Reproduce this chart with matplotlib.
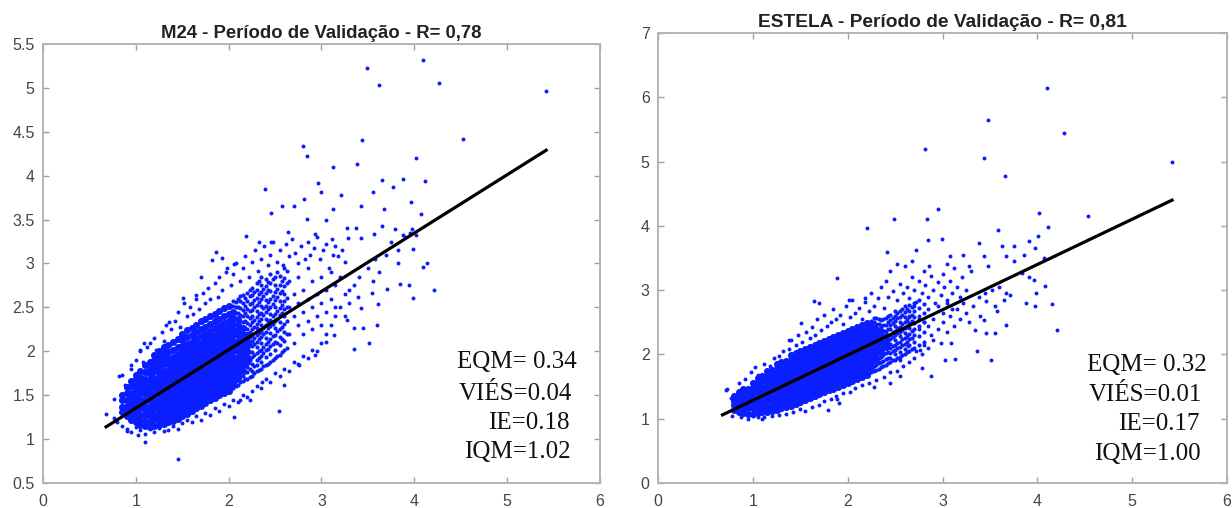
import matplotlib.pyplot as plt
import numpy as np

# ---- M24 (left) ----
# isolated / fringe points (x, y)
m24_pts = [
    (4.09,5.32),(3.49,5.23),(3.62,5.03),(4.27,5.06),(5.42,4.97),(4.52,4.42),(3.44,4.41),(2.80,4.34),
    (2.84,4.22),(4.02,4.20),(3.38,4.13),(3.12,4.10),(2.39,3.85),(2.96,3.92),(3.00,3.82),(3.65,3.95),
    (3.88,3.96),(4.11,3.94),(3.77,3.87),(3.55,3.81),(3.21,3.78),(2.81,3.73),(2.70,3.66),(2.57,3.65),
    (2.46,3.58),(3.12,3.62),(3.67,3.62),(3.96,3.70),(4.07,3.56),(3.43,3.66),(2.84,3.51),(3.05,3.49),
    (3.27,3.40),(3.37,3.41),(3.65,3.43),(3.79,3.39),(3.97,3.39),(2.64,3.36),(2.93,3.34),(3.11,3.28),
    (3.29,3.29),(3.43,3.29),(3.57,3.34),(3.88,3.32),(4.02,3.32),(3.99,3.17),(2.19,3.31),(2.33,3.25),
    (2.46,3.25),(4.09,2.96),(4.14,3.00),(3.82,3.00),(4.21,2.70),(3.85,2.77),(3.94,2.76),(3.99,2.61),
    (3.71,2.71),(3.54,2.66),(3.39,2.62),(3.61,2.54),(3.43,2.49),(3.27,2.36),(3.45,2.26),(3.60,2.30),
    (3.35,2.26),(3.51,2.10),(3.35,2.03),(3.14,2.18),(1.86,3.13),(1.82,3.04),(1.70,2.85),(1.93,3.06),
    (2.06,2.99),(1.97,2.90),(1.51,2.61),(1.65,2.64),(1.36,2.33),(1.04,2.01),(1.09,2.09),(0.95,1.84),
    (0.85,1.73),(0.76,1.46),(0.68,1.29),(0.76,1.24),(0.91,1.09),(1.02,1.05),(1.10,0.97),(1.45,0.77),
    (2.06,1.25),(2.54,1.32),(2.60,1.62),(2.36,1.65),(2.23,1.44),(2.12,1.45),(2.76,1.84),(2.93,1.96),
    (3.05,2.11),
    (0.82,1.72),(0.88,1.62),(0.95,1.80),(1.00,1.90),(1.05,2.00),(1.08,1.88),(1.12,2.05),(1.15,2.10),
    (1.20,2.15),(1.22,2.02),(1.28,2.22),(1.30,2.12),(1.33,2.30),(1.38,2.25),(1.42,2.35),(1.45,2.45),
    (1.48,2.28),(1.52,2.55),(1.55,2.40),(1.58,2.50),(1.62,2.42),(1.65,2.60),(1.68,2.48),(1.72,2.66),
    (1.75,2.55),(1.78,2.72),(1.80,2.60),(1.85,2.78),(1.88,2.62),(1.90,2.85),(1.93,2.70),(1.98,2.95),
    (2.02,2.75),(2.05,2.88),(2.08,3.00),(2.12,2.80),(2.15,2.95),(2.18,3.08),(2.22,2.85),(2.25,3.02),
    (2.28,3.15),(2.32,2.92),(2.35,3.05),(2.38,3.20),(2.42,2.98),(2.45,3.10),(2.48,3.25),(2.52,3.02),
    (2.55,3.15),(2.58,2.98),(2.62,3.22),(2.65,3.08),(2.68,3.28),(2.72,3.12),(2.75,3.00),(2.78,3.20),
    (2.82,3.05),(2.85,3.25),(2.88,3.10),(2.92,3.18),(2.95,3.30),(2.98,3.05),(3.02,3.15),(3.05,3.22),
    (3.08,2.95),(3.12,3.10),(3.15,3.20),(3.18,3.08),(3.22,3.15),(3.25,3.02),
    (0.80,1.20),(0.85,1.15),(0.90,1.12),(0.95,1.08),(1.00,1.14),(1.05,1.10),(1.10,1.06),(1.15,1.12),
    (1.20,1.08),(1.25,1.13),(1.30,1.09),(1.35,1.10),(1.40,1.15),(1.45,1.12),(1.50,1.18),(1.55,1.22),
    (1.60,1.20),(1.65,1.26),(1.70,1.22),(1.75,1.30),(1.80,1.28),(1.85,1.35),(1.90,1.32),(1.95,1.40),
    (2.00,1.38),(2.05,1.45),(2.10,1.42),(2.15,1.50),(2.20,1.48),(2.25,1.55),(2.30,1.60),(2.35,1.58),
    (2.40,1.68),(2.45,1.65),(2.50,1.75),(2.55,1.72),(2.60,1.80),(2.65,1.78),(2.70,1.88),(2.75,1.85),
    (2.80,1.95),(2.85,1.92),(2.90,2.02),(2.95,2.00),(3.00,2.10),(3.05,2.20),(3.10,2.30),(3.15,2.40),
    (3.20,2.50),(3.25,2.65),(3.30,2.55),(3.35,2.75),(3.40,2.85),(3.50,2.95),(3.58,3.05),(3.55,2.80),
    (3.62,2.90),(3.70,3.10),(3.75,3.25),(3.82,3.15),(3.90,3.30),(3.95,3.35),
    (2.65,2.20),(2.65,2.50),(2.65,2.80),(2.70,2.10),(2.70,2.40),(2.70,2.65),(2.75,2.30),(2.75,2.55),
    (2.75,2.85),(2.80,2.20),(2.80,2.45),(2.80,2.70),(2.85,2.35),(2.85,2.60),(2.85,2.95),(2.90,2.25),
    (2.90,2.50),(2.90,2.80),(2.95,2.40),(2.95,2.65),(3.00,2.30),(3.00,2.55),(3.00,2.85),(3.05,2.45),
    (3.05,2.70),(3.10,2.60),(3.10,2.90),(3.15,2.50),(3.15,2.75),(3.20,2.85),(3.25,2.40),(3.30,2.70),
]
# dense core, read column by column
m24_core_x = [0.85,0.90,0.95,1.00,1.05,1.10,1.15,1.20,1.25,1.30,1.35,1.40,1.45,1.50,1.55,1.60,1.65,1.70,
              1.75,1.80,1.85,1.90,1.95,2.00,2.05,2.10,2.15,2.20]
m24_core_y = [
    [1.31,1.37,1.44,1.50],
    [1.26,1.33,1.38,1.45,1.52,1.59],
    [1.22,1.29,1.35,1.40,1.47,1.53,1.60,1.66],
    [1.19,1.25,1.31,1.38,1.43,1.49,1.56,1.62,1.68,1.73],
    [1.16,1.22,1.28,1.35,1.41,1.46,1.52,1.59,1.65,1.71,1.78],
    [1.15,1.21,1.27,1.33,1.38,1.45,1.51,1.57,1.63,1.69,1.76,1.84],
    [1.14,1.20,1.26,1.31,1.37,1.43,1.50,1.56,1.61,1.67,1.74,1.80,1.88],
    [1.15,1.22,1.28,1.34,1.40,1.46,1.52,1.58,1.64,1.70,1.77,1.83,1.90,1.96],
    [1.16,1.22,1.27,1.33,1.39,1.45,1.51,1.57,1.63,1.69,1.75,1.82,1.88,1.94,2.00],
    [1.17,1.24,1.30,1.36,1.42,1.48,1.54,1.60,1.66,1.72,1.78,1.85,1.91,1.98,2.05],
    [1.19,1.25,1.31,1.37,1.43,1.49,1.55,1.61,1.67,1.73,1.79,1.86,1.92,1.99,2.07],
    [1.21,1.27,1.33,1.39,1.45,1.51,1.57,1.63,1.69,1.75,1.81,1.88,1.94,2.01,2.11],
    [1.23,1.29,1.35,1.41,1.47,1.53,1.59,1.65,1.71,1.77,1.83,1.90,1.97,2.05,2.14],
    [1.26,1.32,1.38,1.44,1.50,1.56,1.62,1.68,1.74,1.80,1.86,1.92,1.99,2.06,2.13,2.20],
    [1.29,1.35,1.41,1.47,1.53,1.59,1.65,1.71,1.77,1.83,1.89,1.95,2.01,2.08,2.16,2.24],
    [1.32,1.38,1.44,1.50,1.56,1.62,1.68,1.74,1.80,1.86,1.92,1.98,2.04,2.11,2.19,2.27],
    [1.35,1.41,1.47,1.53,1.59,1.65,1.71,1.77,1.83,1.89,1.95,2.01,2.07,2.14,2.22,2.30],
    [1.38,1.44,1.50,1.56,1.62,1.68,1.74,1.80,1.86,1.92,1.98,2.04,2.10,2.17,2.25,2.34],
    [1.41,1.47,1.53,1.59,1.65,1.71,1.77,1.83,1.89,1.95,2.01,2.07,2.13,2.20,2.28,2.37],
    [1.44,1.50,1.56,1.62,1.68,1.74,1.80,1.86,1.92,1.98,2.04,2.10,2.16,2.23,2.31,2.40],
    [1.47,1.53,1.59,1.65,1.71,1.77,1.83,1.89,1.95,2.01,2.07,2.13,2.19,2.26,2.34,2.43],
    [1.50,1.56,1.62,1.68,1.74,1.80,1.86,1.92,1.98,2.04,2.10,2.16,2.22,2.29,2.37,2.46],
    [1.52,1.58,1.64,1.70,1.76,1.82,1.88,1.94,2.00,2.06,2.12,2.18,2.25,2.32,2.40,2.49],
    [1.55,1.61,1.67,1.73,1.79,1.85,1.91,1.97,2.03,2.09,2.15,2.21,2.28,2.35,2.43,2.52],
    [1.64,1.70,1.76,1.82,1.88,1.94,2.00,2.06,2.12,2.18,2.24,2.31,2.38,2.45],
    [1.70,1.76,1.82,1.88,1.94,2.00,2.06,2.12,2.18,2.24,2.30,2.37],
    [1.78,1.84,1.90,1.96,2.02,2.08,2.14,2.20,2.27],
    [1.88,1.94,2.00,2.06,2.12,2.18],
]
# thinning tail of the cloud, small points
m24_tail_x = [2.05,2.075,2.10,2.125,2.15,2.175,2.20,2.225,
              2.25,2.275,2.30,2.325,2.35,2.375,2.40,2.425,2.45,2.475,2.50,2.525,2.55,2.575,2.60,2.625]
m24_tail_y = [
    [1.58,2.52,2.57],
    [1.60,1.66,1.74,2.44,2.50,2.56],
    [1.62,2.44,2.51,2.59],
    [1.65,1.72,1.79,2.34,2.41,2.49,2.57,2.63],
    [1.66,1.72,2.33,2.40,2.47,2.55,2.64],
    [1.68,1.76,1.84,1.92,2.26,2.35,2.44,2.52,2.61],
    [1.69,1.76,1.82,2.25,2.32,2.40,2.48,2.57,2.66],
    [1.71,1.80,1.90,1.99,2.08,2.16,2.22,2.30,2.38,2.46,2.54,2.63,2.70],
    [1.72,1.78,1.86,1.93,1.99,2.06,2.12,2.19,2.25,2.33,2.40,2.47,2.55,2.64,2.72],
    [1.75,1.83,1.96,2.08,2.15,2.28,2.36,2.50,2.58,2.68],
    [1.77,1.84,1.90,1.98,2.05,2.11,2.18,2.26,2.31,2.39,2.46,2.53,2.61,2.70,2.78],
    [1.79,1.92,2.00,2.14,2.21,2.34,2.42,2.56,2.65,2.80],
    [1.80,1.88,1.95,2.02,2.09,2.16,2.23,2.30,2.37,2.44,2.52,2.60,2.67,2.75,2.85],
    [1.83,1.98,2.05,2.20,2.27,2.41,2.49,2.63,2.71],
    [1.84,1.93,2.01,2.08,2.15,2.22,2.30,2.37,2.45,2.52,2.58,2.66,2.74,2.82],
    [1.86,2.03,2.11,2.26,2.34,2.48,2.56,2.70,2.79],
    [1.88,1.97,2.06,2.14,2.21,2.29,2.36,2.43,2.51,2.60,2.69,2.78,2.88],
    [1.90,2.08,2.17,2.31,2.40,2.54,2.63,2.82],
    [1.92,2.02,2.11,2.19,2.27,2.35,2.43,2.50,2.58,2.67,2.76,2.85],
    [1.95,2.10,2.23,2.37,2.46,2.62,2.71,2.90],
    [1.96,2.07,2.16,2.25,2.33,2.41,2.49,2.57,2.66,2.75,2.86],
    [1.99,2.14,2.28,2.44,2.53,2.69,2.80],
    [2.01,2.12,2.22,2.31,2.40,2.48,2.57,2.65,2.74,2.84,2.95],
    [2.04,2.20,2.35,2.51,2.61,2.78,2.92],
]
m24_line_x = [0.68, 5.42]
m24_line_y = [1.14, 4.29]
m24_stats = ["EQM= 0.34", "VIÉS=0.04", "IE=0.18", "IQM=1.02"]

# ---- ESTELA (right) ----
est_pts = [
    (4.10,6.14),(3.48,5.64),(4.28,5.44),(2.81,5.20),(3.44,5.05),(5.42,4.99),(3.66,4.77),(2.95,4.27),
    (2.49,4.10),(2.84,4.11),(4.02,4.20),(4.53,4.15),(2.20,3.97),(4.11,3.99),(3.58,3.94),(2.85,3.78),
    (2.99,3.80),(3.38,3.73),(3.63,3.69),(3.75,3.69),(3.91,3.77),(4.01,3.85),(3.97,3.65),(2.41,3.60),
    (2.72,3.63),(3.08,3.53),(3.22,3.55),(3.44,3.53),(3.67,3.53),(3.86,3.55),(2.52,3.40),(2.68,3.45),
    (2.86,3.37),(3.05,3.40),(3.28,3.37),(3.48,3.37),(3.75,3.45),(4.07,3.50),(1.89,3.19),(3.84,3.27),
    (3.96,3.16),(3.91,3.21),(4.08,3.06),(3.71,2.93),(3.67,2.95),(3.88,2.80),(3.98,2.75),(4.15,2.79),
    (4.21,2.38),(3.99,2.95),(3.46,2.83),(3.44,2.54),(3.57,2.67),(3.67,2.46),(3.46,2.34),(3.34,2.38),
    (3.55,2.33),(3.36,2.05),(3.51,1.92),(3.13,1.93),(3.03,1.92),(1.64,2.83),(1.70,2.80),(1.51,2.49),
    (1.38,2.23),(2.01,2.85),(2.18,2.88),(2.45,1.56),(2.88,1.66),(2.78,1.79),(2.55,1.66),(2.28,1.50),
    (1.79,1.14),(1.10,0.99),(1.00,1.05),(0.73,1.46),(0.77,1.32),(1.89,1.30),(1.91,1.24),(2.55,1.92),
    (2.76,2.07),(2.64,2.13),(3.09,2.18),
    (0.72,1.45),(0.85,1.55),(0.92,1.62),(0.98,1.72),(1.02,1.80),(1.05,1.68),(1.12,1.85),(1.18,1.82),
    (1.22,1.95),(1.28,1.98),(1.32,2.05),(1.38,2.08),(1.40,2.22),(1.45,2.15),(1.48,2.30),(1.52,2.20),
    (1.56,2.35),(1.60,2.25),(1.62,2.42),(1.66,2.30),(1.68,2.55),(1.72,2.38),(1.75,2.62),(1.78,2.45),
    (1.82,2.50),(1.85,2.70),(1.88,2.55),(1.92,2.62),(1.95,2.48),(1.98,2.75),(2.02,2.58),(2.05,2.85),
    (2.08,2.65),(2.12,2.72),(2.15,2.55),(2.18,2.82),(2.22,2.68),(2.25,2.95),(2.28,2.75),(2.32,2.88),
    (2.35,3.05),(2.38,2.72),(2.40,3.15),(2.42,2.90),(2.45,3.30),(2.48,2.98),(2.52,2.85),(2.55,3.10),
    (2.58,2.95),(2.60,3.38),(2.62,3.05),(2.65,2.88),(2.68,3.20),(2.70,3.00),(2.72,2.82),(2.75,3.15),
    (2.78,2.95),(2.80,3.30),(2.82,3.08),(2.85,2.90),(2.88,3.22),(2.90,3.00),(2.92,2.80),(2.95,3.12),
    (2.98,2.92),(3.00,3.25),(3.02,3.05),(3.05,2.85),(3.08,3.15),(3.10,2.95),(3.12,3.35),(3.15,3.05),
    (3.18,2.90),(3.20,3.20),(3.25,3.00),(3.30,3.30),
    (0.78,1.05),(0.88,1.02),(0.95,1.00),(1.05,1.02),(1.12,1.03),(1.20,1.04),(1.28,1.06),(1.35,1.08),
    (1.42,1.10),(1.50,1.15),(1.55,1.12),(1.62,1.18),(1.70,1.22),(1.75,1.27),(1.82,1.30),(1.88,1.35),
    (1.95,1.40),(2.02,1.42),(2.08,1.48),(2.15,1.52),(2.22,1.55),(2.30,1.60),(2.38,1.65),(2.45,1.72),
    (2.52,1.75),(2.58,1.82),(2.65,1.88),(2.70,1.95),(2.72,2.05),(2.78,2.00),(2.80,2.15),(2.85,2.10),
    (2.88,2.30),(2.90,2.22),(2.95,2.40),(2.98,2.18),(3.00,2.50),(3.05,2.35),(3.08,2.60),(3.12,2.45),
    (3.15,2.70),(3.18,2.55),(3.22,2.80),(3.25,2.65),(3.28,2.50),(3.32,2.75),(3.38,2.90),(3.40,2.60),
    (3.45,2.95),(3.52,3.00),(3.55,2.75),(3.60,3.05),(3.65,2.85),
    (2.75,2.40),(2.75,2.60),(2.80,2.50),(2.85,2.70),(2.90,2.55),(2.95,2.75),(3.00,2.65),(3.05,2.80),
    (3.10,2.70),(2.70,2.75),(2.65,2.60),(2.85,2.45),
]
est_core_x = [0.80,0.85,0.90,0.95,1.00,1.05,1.10,1.15,1.20,1.25,1.30,1.35,1.40,1.45,1.50,1.55,1.60,1.65,
              1.70,1.75,1.80,1.85,1.90,1.95,2.00,2.05,2.10,2.15,2.20,2.25,2.30,2.35,2.40]
est_core_y = [
    [1.13,1.21,1.28,1.35],
    [1.11,1.18,1.26,1.33,1.41],
    [1.09,1.17,1.24,1.32,1.39,1.46],
    [1.08,1.16,1.24,1.31,1.39,1.47],
    [1.08,1.16,1.24,1.32,1.40,1.48,1.55],
    [1.09,1.17,1.25,1.33,1.41,1.49,1.57,1.63],
    [1.10,1.18,1.26,1.34,1.42,1.50,1.58,1.66],
    [1.11,1.19,1.27,1.35,1.43,1.51,1.59,1.67,1.74],
    [1.12,1.20,1.28,1.36,1.44,1.52,1.60,1.68,1.76],
    [1.14,1.22,1.30,1.38,1.46,1.54,1.62,1.70,1.78,1.85],
    [1.16,1.24,1.32,1.40,1.48,1.56,1.64,1.72,1.80,1.88],
    [1.18,1.26,1.34,1.42,1.50,1.58,1.66,1.74,1.82,1.90],
    [1.20,1.28,1.36,1.44,1.52,1.60,1.68,1.76,1.84,1.92,1.99],
    [1.23,1.31,1.39,1.47,1.55,1.63,1.71,1.79,1.87,1.95,2.02],
    [1.26,1.34,1.42,1.50,1.58,1.66,1.74,1.82,1.90,1.98,2.05],
    [1.29,1.37,1.45,1.53,1.61,1.69,1.77,1.85,1.93,2.01,2.08],
    [1.32,1.40,1.48,1.56,1.64,1.72,1.80,1.88,1.96,2.04,2.12],
    [1.35,1.43,1.51,1.59,1.67,1.75,1.83,1.91,1.99,2.07,2.15],
    [1.38,1.46,1.54,1.62,1.70,1.78,1.86,1.94,2.02,2.10,2.18],
    [1.41,1.49,1.57,1.65,1.73,1.81,1.89,1.97,2.05,2.13,2.21],
    [1.44,1.52,1.60,1.68,1.76,1.84,1.92,2.00,2.08,2.16,2.24],
    [1.47,1.55,1.63,1.71,1.79,1.87,1.95,2.03,2.11,2.19,2.27],
    [1.50,1.58,1.66,1.74,1.82,1.90,1.98,2.06,2.14,2.22,2.31],
    [1.53,1.61,1.69,1.77,1.85,1.93,2.01,2.09,2.17,2.25,2.34],
    [1.56,1.64,1.72,1.80,1.88,1.96,2.04,2.12,2.20,2.28,2.37],
    [1.59,1.67,1.75,1.83,1.91,1.99,2.07,2.15,2.23,2.31,2.40],
    [1.62,1.70,1.78,1.86,1.94,2.02,2.10,2.18,2.26,2.34,2.43],
    [1.65,1.73,1.81,1.89,1.97,2.05,2.13,2.21,2.29,2.37,2.46],
    [1.68,1.76,1.84,1.92,2.00,2.08,2.16,2.24,2.32,2.40,2.49],
    [1.80,1.88,1.96,2.04,2.12,2.20,2.28,2.36,2.44],
    [1.92,2.00,2.08,2.16,2.24,2.32,2.40],
    [2.04,2.12,2.20,2.28,2.36],
    [2.12,2.20,2.28],
]
est_tail_x = [2.25,2.275,2.30,2.325,2.35,2.375,2.40,2.425,
              2.45,2.475,2.50,2.525,2.55,2.575,2.60,2.625,2.65,2.675,2.70,2.75,2.80]
est_tail_y = [
    [1.72,2.52],
    [1.74,1.82,2.43,2.50,2.56],
    [1.76,1.84,2.48,2.57],
    [1.78,1.86,1.95,2.40,2.47,2.55],
    [1.80,1.88,1.96,2.45,2.53],
    [1.82,1.90,1.99,2.08,2.37,2.46,2.55],
    [1.84,1.93,2.02,2.37,2.46,2.57],
    [1.86,1.95,2.04,2.13,2.22,2.31,2.40,2.50,2.60],
    [1.88,1.95,2.02,2.10,2.17,2.24,2.31,2.39,2.46,2.53,2.62],
    [1.91,2.05,2.13,2.27,2.35,2.49,2.57],
    [1.92,2.00,2.07,2.15,2.22,2.30,2.37,2.45,2.52,2.60,2.68],
    [1.94,2.10,2.18,2.33,2.41,2.56,2.64],
    [1.96,2.04,2.12,2.20,2.28,2.35,2.43,2.51,2.59,2.67],
    [1.99,2.14,2.24,2.38,2.47,2.62,2.71],
    [2.01,2.09,2.17,2.25,2.33,2.41,2.50,2.58,2.66,2.75],
    [2.04,2.20,2.29,2.45,2.54,2.70],
    [2.06,2.15,2.24,2.32,2.41,2.49,2.58,2.67,2.77],
    [2.08,2.26,2.36,2.52,2.62,2.74],
    [2.10,2.20,2.30,2.40,2.49,2.58,2.68,2.80],
    [2.15,2.28,2.45,2.55,2.72,2.85],
    [2.20,2.35,2.50,2.65,2.78],
]
est_line_x = [0.68, 5.42]
est_line_y = [1.06, 4.40]
est_stats = ["EQM= 0.32", "VIÉS=0.01", "IE=0.17", "IQM=1.00"]


def core_points(cols, vals):
    xs, ys = [], []
    for c, v in zip(cols, vals):
        xs += [c] * len(v)
        ys += v
    return xs, ys


def style_axes(ax):
    for s in ax.spines.values():
        s.set_color("#b4b4b4")
        s.set_linewidth(1.4)
    ax.tick_params(direction="in", length=4, width=1, color="#a0a0a0",
                   top=True, right=True, labelsize=11.5, labelcolor="#454545")
    ax.tick_params(axis="x", pad=8)
    ax.tick_params(axis="y", pad=6)


plt.rcParams["font.family"] = ["Liberation Sans", "DejaVu Sans"]
fig = plt.figure(figsize=(12.32, 5.08), dpi=100)
ax1 = fig.add_axes([0.0349, 0.0492, 0.4521, 0.8642])
ax2 = fig.add_axes([0.5341, 0.0492, 0.4619, 0.8858])

blue = "#0a1eff"
serif = ["Liberation Serif", "DejaVu Serif"]

# left panel
px, py = zip(*m24_pts)
cx, cy = core_points(m24_core_x, m24_core_y)
tx, ty = core_points(m24_tail_x, m24_tail_y)
ax1.scatter(cx, cy, s=26, color=blue, linewidths=0, zorder=2)
ax1.scatter(tx, ty, s=9, color=blue, linewidths=0, zorder=2)
ax1.scatter(px, py, s=8, color=blue, linewidths=0, zorder=2)
ax1.plot(m24_line_x, m24_line_y, color="black", linewidth=2.3, zorder=3)
ax1.set_xlim(0, 6)
ax1.set_ylim(0.5, 5.5)
ax1.set_xticks(np.arange(0, 7, 1))
ax1.set_yticks(np.arange(0.5, 5.6, 0.5))
ax1.set_yticklabels(["0.5", "1", "1.5", "2", "2.5", "3", "3.5", "4", "4.5", "5", "5.5"])
ax1.set_title("M24 - Período de Validação - R= 0,78", fontsize=13.3, fontweight="bold",
              pad=4, color="#222222")
style_axes(ax1)
for t, xf, yf in zip(m24_stats, [0.743, 0.747, 0.799, 0.756], [0.276, 0.203, 0.137, 0.071]):
    ax1.text(xf, yf, t, transform=ax1.transAxes, family=serif, fontsize=18,
             va="center", ha="left", color="#111111")

# right panel
px, py = zip(*est_pts)
cx, cy = core_points(est_core_x, est_core_y)
tx, ty = core_points(est_tail_x, est_tail_y)
ax2.scatter(cx, cy, s=26, color=blue, linewidths=0, zorder=2)
ax2.scatter(tx, ty, s=9, color=blue, linewidths=0, zorder=2)
ax2.scatter(px, py, s=8, color=blue, linewidths=0, zorder=2)
ax2.plot(est_line_x, est_line_y, color="black", linewidth=2.3, zorder=3)
ax2.set_xlim(0, 6)
ax2.set_ylim(0, 7)
ax2.set_xticks(np.arange(0, 7, 1))
ax2.set_yticks(np.arange(0, 8, 1))
ax2.set_title("ESTELA - Período de Validação - R= 0,81", fontsize=13.8, fontweight="bold",
              pad=4, color="#222222")
style_axes(ax2)
for t, xf, yf in zip(est_stats, [0.753, 0.757, 0.808, 0.766], [0.262, 0.196, 0.131, 0.064]):
    ax2.text(xf, yf, t, transform=ax2.transAxes, family=serif, fontsize=18,
             va="center", ha="left", color="#111111")

fig.savefig("out.png", dpi=100)
